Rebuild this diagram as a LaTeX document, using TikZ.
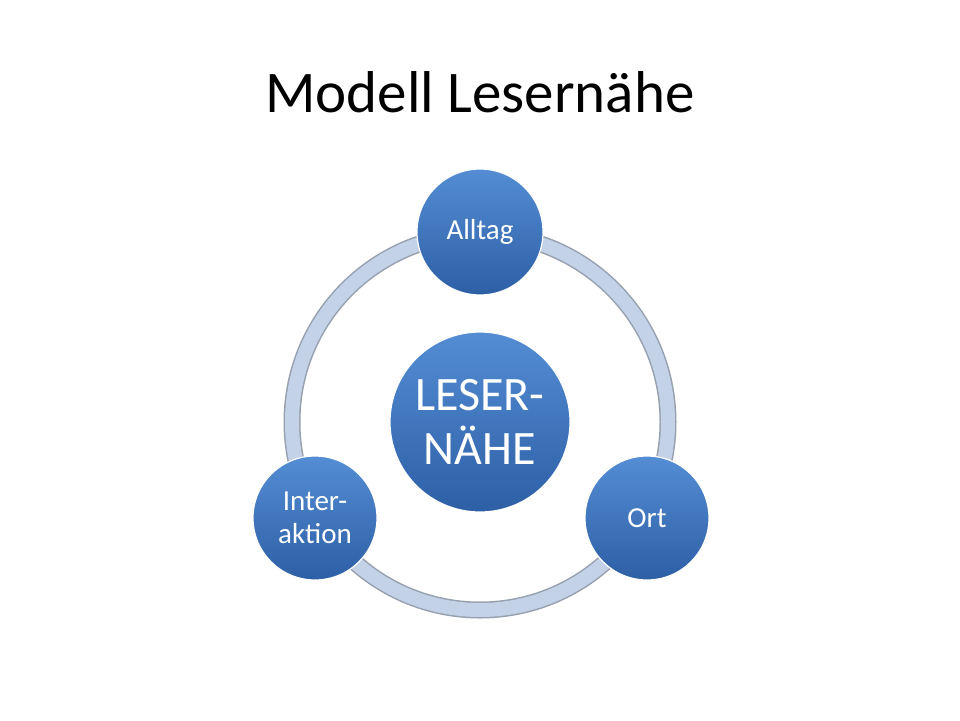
\documentclass[tikz,border=0pt]{standalone}
\usepackage{fontspec}
\setmainfont{Carlito}
\definecolor{cblue}{RGB}{84,141,212}
\definecolor{cdark}{RGB}{45,95,165}
\definecolor{ringc}{RGB}{196,210,232}
\definecolor{ringb}{RGB}{150,160,175}
\begin{document}
\begin{tikzpicture}[x=1pt,y=-1pt,
  bub/.style={circle,draw=white,line width=1.2pt,top color=cblue,bottom color=cdark,text=white,align=center,inner sep=0pt,font=\fontsize{29}{33}\selectfont}]
\useasboundingbox (0,0) rectangle (960,720);
\fill[white] (0,0) rectangle (960,720);
\node (title) at (480,92) {\fontsize{59}{66}\selectfont Modell Lesernähe};
\draw[ringb,line width=17pt] (480,422) circle (188);
\draw[ringc,line width=14pt] (480,422) circle (188);
\node[bub,minimum size=180pt,font=\fontsize{48}{54}\selectfont] (c) at (480,422) {LESER-\\NÄHE};
\node[bub,minimum size=126pt] (a) at (480,232) {Alltag};
\node[bub,minimum size=124pt] (o) at (647,518) {Ort};
\node[bub,minimum size=124pt] (i) at (315,518) {Inter-\\aktion};
\end{tikzpicture}
\end{document}
